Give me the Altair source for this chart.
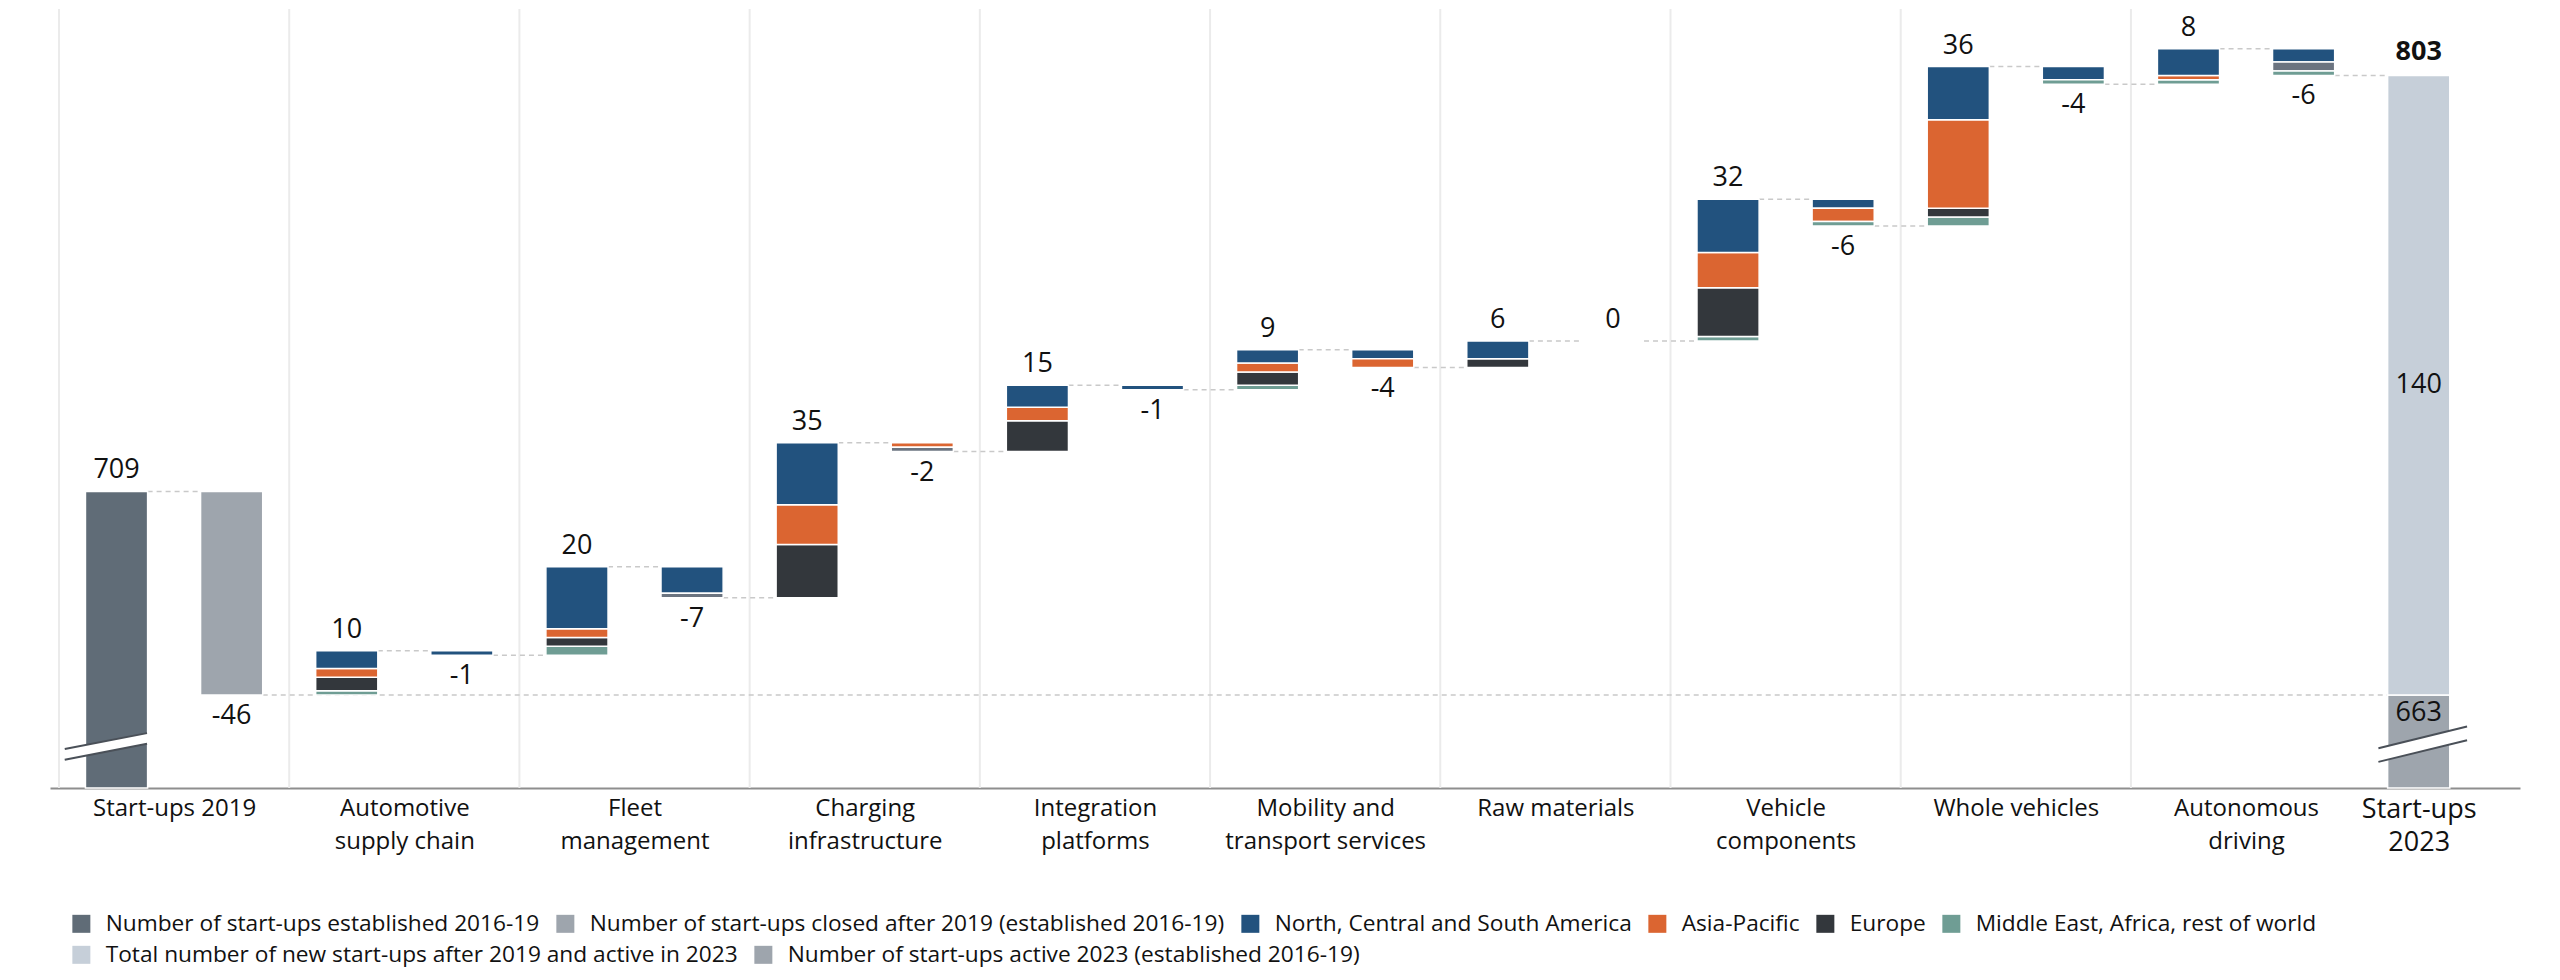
import altair as alt
import pandas as pd

# ---------------- data ----------------
first_label = "Start-ups 2019"
categories = ["Automotive\nsupply chain", "Fleet\nmanagement", "Charging\ninfrastructure",
              "Integration\nplatforms", "Mobility and\ntransport services", "Raw materials",
              "Vehicle\ncomponents", "Whole vehicles", "Autonomous\ndriving"]
last_label = "Start-ups\n2023"

start_2019 = 709
closed_2016_19 = 46
active_2016_19 = 663
new_total = 140
total_2023 = 803

# new start-ups after 2019 by region (stacked, bottom->top: MEA, Europe, Asia, America)
new_america = [4, 14, 14, 5, 3, 4, 12, 12, 6]
new_asia = [2, 2, 9, 3, 2, 0, 8, 20, 1]
new_europe = [3, 2, 12, 7, 3, 2, 11, 2, 0]
new_mea = [1, 2, 0, 0, 1, 0, 1, 2, 1]

# start-ups closed by region
closed_america = [1, 6, 0, 1, 2, 0, 2, 3, 3]
closed_asia = [0, 0, 1, 0, 2, 0, 3, 0, 0]
closed_europe = [0, 1, 1, 0, 0, 0, 0, 0, 2]
closed_mea = [0, 0, 0, 0, 0, 0, 1, 1, 1]

S_EST = "Number of start-ups established 2016-19"
S_CLOSED = "Number of start-ups closed after 2019 (established 2016-19)"
S_AM = "North, Central and South America"
S_AS = "Asia-Pacific"
S_EU = "Europe"
S_ME = "Middle East, Africa, rest of world"
S_NEW = "Total number of new start-ups after 2019 and active in 2023"
S_ACT = "Number of start-ups active 2023 (established 2016-19)"
S_EU_CL = "Europe (closed)"

legend_row1 = [S_EST, S_CLOSED, S_AM, S_AS, S_EU, S_ME]
legend_row2 = [S_NEW, S_ACT]
color_domain1 = legend_row1 + [S_EU_CL]
color_range1 = ["#606c77", "#9ea5ad", "#22527e", "#db6531", "#33373c", "#6f9d94", "#6b7480"]
color_range2 = ["#c6cfd9", "#9ea5ad"]

# ---------------- layout constants (axis break) ----------------
y_floor, y_top = 642, 818
x_min, x_max = -0.078, 21.38
hw = 0.27  # half bar width in slot units

# ---------------- build marks data ----------------
bars, bars_end, above, below, inside, bold = [], [], [], [], [], []
levels = []  # (slot, level after bar)

def seg(slot, lo, hi, series, target=bars):
    c = slot + 0.5
    target.append(dict(x=c - hw, x2=c + hw, y=lo, y2=hi, series=series))

seg(0, y_floor, start_2019, S_EST)
above.append(dict(x=0.5, y=start_2019, t=str(start_2019)))
levels.append((0, start_2019))
after_closed = start_2019 - closed_2016_19
seg(1, after_closed, start_2019, S_CLOSED)
below.append(dict(x=1.5, y=after_closed, t=f"-{closed_2016_19}"))
levels.append((1, after_closed))

level = after_closed
for i in range(len(categories)):
    s_in = 2 + 2 * i
    s_out = 3 + 2 * i
    base = level
    for val, ser in [(new_mea[i], S_ME), (new_europe[i], S_EU), (new_asia[i], S_AS), (new_america[i], S_AM)]:
        if val > 0:
            seg(s_in, base, base + val, ser)
            base += val
    inc = new_america[i] + new_asia[i] + new_europe[i] + new_mea[i]
    level += inc
    above.append(dict(x=s_in + 0.5, y=level, t=str(inc)))
    levels.append((s_in, level))
    top = level
    for val, ser in [(closed_america[i], S_AM), (closed_asia[i], S_AS), (closed_europe[i], S_EU_CL), (closed_mea[i], S_ME)]:
        if val > 0:
            seg(s_out, top - val, top, ser)
            top -= val
    dec = closed_america[i] + closed_asia[i] + closed_europe[i] + closed_mea[i]
    level -= dec
    if dec == 0:
        above.append(dict(x=s_out + 0.5, y=level, t="0"))
    else:
        below.append(dict(x=s_out + 0.5, y=level, t=f"-{dec}"))
    levels.append((s_out, level))

seg(20, y_floor, active_2016_19, S_ACT, bars_end)
seg(20, active_2016_19, active_2016_19 + new_total, S_NEW, bars_end)
bold.append(dict(x=20.5, y=total_2023, t=str(total_2023)))
inside.append(dict(x=20.5, y=active_2016_19 + new_total / 2, t=str(new_total)))
inside_top = [dict(x=20.5, y=active_2016_19, t=str(active_2016_19))]

connectors = []
for slot, lv in levels:
    if slot == 1:
        connectors.append(dict(x=slot + 0.5 + hw, x2=20.5 - hw, y=lv))
    else:
        connectors.append(dict(x=slot + 0.5 + hw, x2=slot + 1.5 - hw, y=lv))

separators = pd.DataFrame(dict(x=[2 * k for k in range(10)], y=y_floor, y2=y_top))

# axis-break symbols (decoration, in data units)
breaks = pd.DataFrame([
    dict(b="L", x=0.05, lo=648.4, hi=650.8), dict(b="L", x=0.765, lo=652.0, hi=654.4),
    dict(b="R", x=20.15, lo=647.9, hi=651.0), dict(b="R", x=20.92, lo=652.8, hi=655.9),
])
break_lines = pd.concat([
    breaks.assign(id=breaks["b"] + "lo", yy=breaks["lo"]),
    breaks.assign(id=breaks["b"] + "hi", yy=breaks["hi"]),
])

label_x = [2 * k + 1 for k in range(10)] + [20.5]
all_labels = [first_label] + categories + [last_label]
arr = ",".join("[" + ",".join(f"'{p}'" for p in lab.split("\n")) + "]" for lab in all_labels)
label_expr = f"[{arr}][floor(datum.value / 2)]"

FONT = "Open Sans"
xs = alt.Scale(domain=[x_min, x_max], nice=False, zero=False)
ys = alt.Scale(domain=[y_floor, y_top], nice=False, zero=False)

xaxis = alt.Axis(values=label_x, labelExpr=label_expr, title=None, ticks=False, grid=False,
                 orient="bottom", domainColor="#8e8e8e", domainWidth=2, labelFont=FONT,
                 labelFontSize={"condition": {"test": "datum.value > 20", "value": 27}, "value": 24},
                 labelLineHeight=33,
                 labelColor="#111111", labelPadding=8, labelFlush=False, labelOverlap=False,
                 labelLimit=0, labelBaseline="top")

def X(field="x"):
    return alt.X(f"{field}:Q", scale=xs, axis=xaxis, title=None)

def Y(field="y"):
    return alt.Y(f"{field}:Q", scale=ys, axis=None, title=None)

sep_layer = alt.Chart(separators).mark_rule(color="#ebebeb", strokeWidth=2).encode(
    x=X(), y=Y(), y2="y2:Q")

con_layer = alt.Chart(pd.DataFrame(connectors)).mark_rule(
    color="#c9c9c9", strokeWidth=1.5, strokeDash=[5, 4]).encode(
    x=X(), x2="x2:Q", y=Y())

LEG = dict(title=None, orient="none", direction="horizontal", symbolType="square",
           symbolSize=324, symbolStrokeWidth=0, labelFont=FONT, labelFontSize=22.7,
           labelColor="#111111", labelLimit=0, labelOffset=13, columnPadding=14, padding=0)

bar_layer = alt.Chart(pd.DataFrame(bars)).mark_bar(stroke="white", strokeWidth=1.5).encode(
    x=X(), x2="x2:Q", y=Y(), y2="y2:Q",
    color=alt.Color("series:N", scale=alt.Scale(domain=color_domain1, range=color_range1),
                    legend=alt.Legend(values=legend_row1, legendX=20, legendY=903,
                                      columns=6, **LEG)))

end_layer = alt.Chart(pd.DataFrame(bars_end)).mark_bar(stroke="white", strokeWidth=1.5).encode(
    x=X(), x2="x2:Q", y=Y(), y2="y2:Q",
    fill=alt.Fill("series:N", scale=alt.Scale(domain=legend_row2, range=color_range2),
                  legend=alt.Legend(values=legend_row2, legendX=20, legendY=934,
                                    columns=2, **LEG)))

brk_area = alt.Chart(breaks).mark_area(color="white", opacity=1).encode(
    x=X(), y=Y("lo"), y2="hi:Q", detail="b:N")

brk_line = alt.Chart(break_lines).mark_line(color="#4a5058", strokeWidth=2).encode(
    x=X(), y=Y("yy"), detail="id:N")

def text_layer(rows, **kw):
    return alt.Chart(pd.DataFrame(rows)).mark_text(font=FONT, fontSize=27, color="#111111", **kw).encode(
        x=X(), y=Y(), text="t:N")

t_above = text_layer(above, baseline="bottom", dy=-7)
t_below = text_layer(below, baseline="top", dy=8)
t_mid = text_layer(inside, baseline="middle")
t_top = text_layer(inside_top, baseline="top", dy=5)
t_bold = text_layer(bold, baseline="bottom", dy=-9, fontWeight="bold")

chart = alt.layer(sep_layer, con_layer, bar_layer, end_layer, brk_area, brk_line,
                  t_above, t_below, t_mid, t_top, t_bold).properties(
    width=2470, height=779,
    padding={"left": 42, "top": 0, "right": 20, "bottom": 5},
    background="white",
).configure_view(stroke=None)

chart.save("out.html", embed_options={"renderer": "svg", "actions": False})
